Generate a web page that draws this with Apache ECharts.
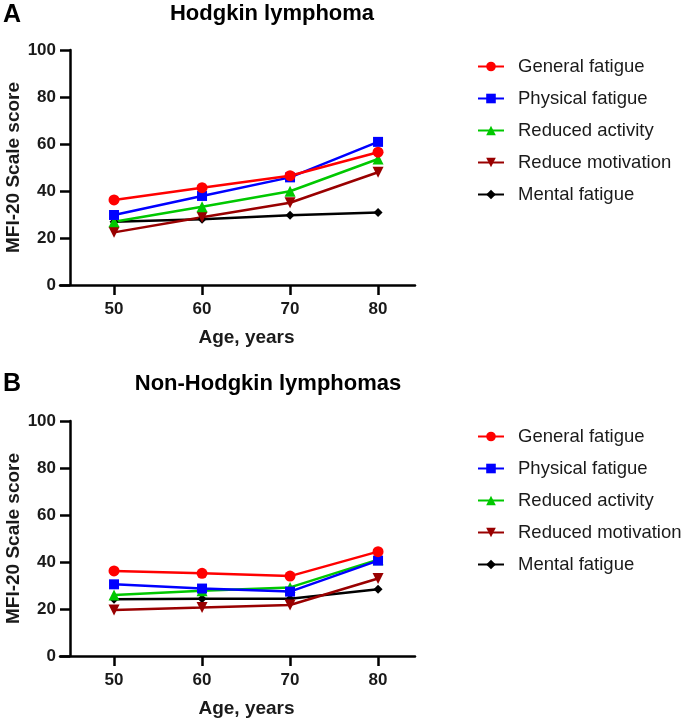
<!DOCTYPE html>
<html>
<head>
<meta charset="utf-8">
<script src="https://cdn.jsdelivr.net/npm/echarts@6/dist/echarts.min.js"></script>
<style>
html,body{margin:0;padding:0;background:#fff;}
#chart{width:685px;height:722px;}
</style>
</head>
<body>
<div id="chart"></div>
<script>
// ---- data ----
const ages = [50, 60, 70, 80];
const xTicks = [50, 60, 70, 80];
const yTicks = [0, 20, 40, 60, 80, 100];

const namesA = ["General fatigue", "Physical fatigue", "Reduced activity", "Reduce motivation", "Mental fatigue"];
const namesB = ["General fatigue", "Physical fatigue", "Reduced activity", "Reduced motivation", "Mental fatigue"];

// Panel A: Hodgkin lymphoma
const hlGeneral    = [36.2, 41.4, 46.5, 56.5];
const hlPhysical   = [29.8, 37.9, 45.8, 60.9];
const hlActivity   = [26.9, 33.3, 39.9, 53.6];
const hlMotivation = [22.4, 28.8, 35.0, 48.0];
const hlMental     = [26.9, 28.0, 29.7, 30.9];

// Panel B: Non-Hodgkin lymphomas
const nhlGeneral    = [36.2, 35.2, 34.0, 44.4];
const nhlPhysical   = [30.5, 28.7, 27.4, 40.6];
const nhlActivity   = [26.0, 27.8, 29.2, 41.0];
const nhlMotivation = [19.6, 20.6, 21.7, 33.0];
const nhlMental     = [24.1, 24.4, 24.4, 28.4];

// ---- styles ----
const colors = ["#FF0000", "#0000FF", "#00C800", "#990000", "#000000"];
const symbols = ["circle", "rect", "triangle", "path://M0,0 L10,0 L5,10 Z", "diamond"];
const symSizes = [11, 10, 11, 11, 9];
const FONT = "Arial, 'Liberation Sans', Helvetica, sans-serif";

const pairs = (vals) => ages.map((a, i) => [a, vals[i]]);

function makeSeries(names, valsList, gi) {
  const out = [];
  // draw order: black first, red last (on top)
  for (let k = valsList.length - 1; k >= 0; k--) {
    out.push({
      type: "line",
      name: names[k],
      xAxisIndex: gi, yAxisIndex: gi,
      data: pairs(valsList[k]),
      symbol: symbols[k],
      symbolSize: symSizes[k],
      showAllSymbol: true,
      lineStyle: { color: colors[k], width: 2.5 },
      itemStyle: { color: colors[k] },
      emphasis: { disabled: true },
      animation: false,
      z: 3
    });
  }
  return out;
}

const axisCommonX = (gi) => ({
  type: "value", gridIndex: gi, min: 43.86, max: 84.2,
  axisLine: { show: true, onZero: false, lineStyle: { color: "#000", width: 2.5 } },
  axisTick: { show: true, length: 10, customValues: xTicks, lineStyle: { color: "#000", width: 2.5 } },
  axisLabel: { customValues: xTicks, margin: 16, color: "#1a1a1a", fontFamily: FONT, fontWeight: "bold", fontSize: 17 },
  splitLine: { show: false },
  name: "Age, years", nameLocation: "middle", nameGap: 43, nameMoveOverlap: false,
  nameTextStyle: { color: "#1a1a1a", fontFamily: FONT, fontWeight: "bold", fontSize: 19, padding: [0, 0, 0, 18] }
});

const axisCommonY = (gi) => ({
  type: "value", gridIndex: gi, min: 0, max: 100, interval: 20, offset: -10,
  axisLine: { show: true, onZero: false, lineStyle: { color: "#000", width: 2.5 } },
  axisTick: { show: true, length: 10, lineStyle: { color: "#000", width: 2.5 } },
  axisLabel: { margin: 14, color: "#1a1a1a", fontFamily: FONT, fontWeight: "bold", fontSize: 17 },
  splitLine: { show: false },
  name: "MFI-20 Scale score", nameLocation: "middle", nameGap: 47, nameMoveOverlap: false,
  nameTextStyle: { color: "#1a1a1a", fontFamily: FONT, fontWeight: "bold", fontSize: 19 }
});

const legendCommon = (names, top) => ({
  data: names, left: 477, top: top, orient: "vertical",
  padding: 0, itemWidth: 26, itemHeight: 12, itemGap: 13,
  textStyle: { color: "#1a1a1a", fontFamily: FONT, fontSize: 18.5, lineHeight: 18, padding: [0, 0, 0, 9] },
  selectedMode: false, inactiveColor: "#1a1a1a"
});

const chart = echarts.init(document.getElementById("chart"), null, { renderer: "canvas" });
chart.setOption({
  backgroundColor: "#fff",
  animation: false,
  title: [
    { text: "A", left: 3, top: 3, padding: 0, textStyle: { fontFamily: FONT, fontWeight: "bold", fontSize: 25, color: "#000" } },
    { text: "Hodgkin lymphoma", left: 272, top: 3, textAlign: "center", padding: 0, textStyle: { fontFamily: FONT, fontWeight: "bold", fontSize: 22, color: "#000" } },
    { text: "B", left: 3, top: 372, padding: 0, textStyle: { fontFamily: FONT, fontWeight: "bold", fontSize: 25, color: "#000" } },
    { text: "Non-Hodgkin lymphomas", left: 268, top: 373, textAlign: "center", padding: 0, textStyle: { fontFamily: FONT, fontWeight: "bold", fontSize: 22, color: "#000" } }
  ],
  legend: [legendCommon(namesA, 57), legendCommon(namesB, 427)],
  grid: [
    { left: 60, right: 270, top: 50, bottom: 437, containLabel: false, outerBoundsMode: "none" },
    { left: 60, right: 270, top: 421, bottom: 66, containLabel: false, outerBoundsMode: "none" }
  ],
  xAxis: [axisCommonX(0), axisCommonX(1)],
  yAxis: [axisCommonY(0), axisCommonY(1)],
  series: [
    ...makeSeries(namesA, [hlGeneral, hlPhysical, hlActivity, hlMotivation, hlMental], 0),
    ...makeSeries(namesB, [nhlGeneral, nhlPhysical, nhlActivity, nhlMotivation, nhlMental], 1)
  ]
});
</script>
</body>
</html>
